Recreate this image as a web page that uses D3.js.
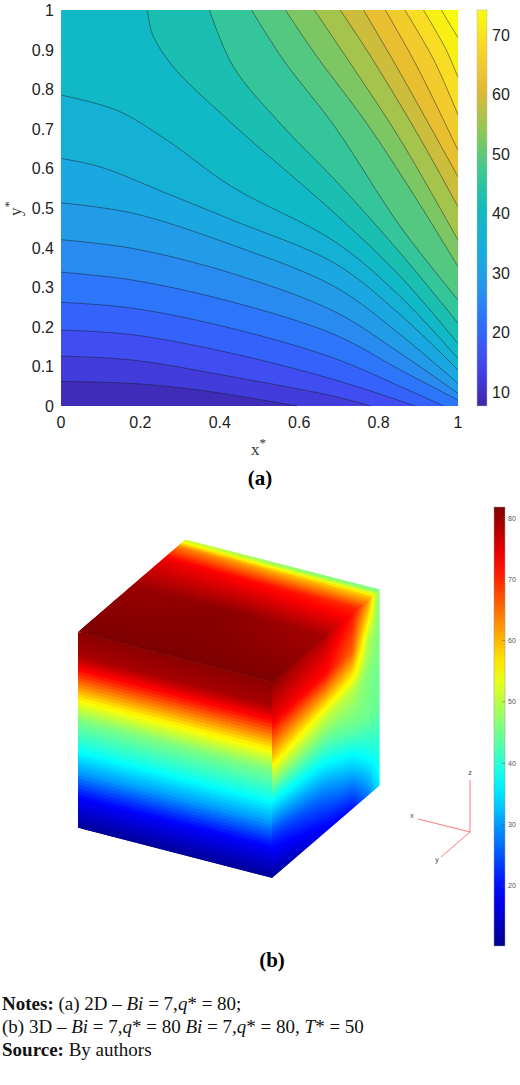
<!DOCTYPE html>
<html><head><meta charset="utf-8">
<script src="https://cdn.jsdelivr.net/npm/d3@7"></script>
<style>body{margin:0;background:#fff}svg{display:block}</style>
</head><body>
<script>
// ---- (a) contour lines, [x*, y*] points, ascending level
var levels = [10.9,14.2,17.6,20.9,24.2,27.5,30.8,34.2,37.5,40.8,44.1,47.4,50.7,54,57.4,60.7,64,67.3,70.6,73.9];
var contourLines = [
 [[0,.062],[.18,.057],[.35,.04],[.594,0]],
 [[0,.126],[.18,.116],[.43,.074],[.69,.024],[.78,0]],
 [[0,.192],[.18,.18],[.43,.133],[.69,.066],[.892,0]],
 [[0,.262],[.18,.247],[.43,.196],[.69,.12],[.855,.049],[.964,0]],
 [[0,.338],[.18,.318],[.43,.263],[.69,.18],[.855,.091],[1,.015]],
 [[0,.42],[.18,.398],[.43,.335],[.69,.238],[.855,.133],[1,.032]],
 [[0,.513],[.18,.487],[.43,.407],[.69,.301],[.855,.18],[1,.057]],
 [[0,.625],[.098,.604],[.266,.537],[.43,.47],[.69,.36],[.855,.23],[1,.091]],
 [[0,.785],[.14,.747],[.266,.672],[.43,.554],[.69,.415],[.855,.276],[1,.12]],
 [[.218,1],[.23,.94],[.28,.86],[.43,.714],[.69,.486],[.855,.327],[1,.158]],
 [[.374,1],[.434,.857],[.56,.705],[.69,.571],[.855,.386],[1,.209]],
 [[.48,1],[.56,.874],[.69,.705],[.855,.453],[1,.268]],
 [[.565,1],[.645,.882],[.77,.714],[.897,.52],[1,.352]],
 [[.638,1],[.729,.865],[.855,.672],[1,.419]],
 [[.703,1],[.77,.899],[.897,.689],[1,.503]],
 [[.762,1],[.855,.84],[1,.579]],
 [[.817,1],[.897,.857],[1,.646]],
 [[.866,1],[.939,.874],[1,.735]],
 [[.913,1],[.97,.9],[1,.83]],
 [[.958,1],[1,.93]]
];
var tMin = 7.6, tMax = 74.2;
var axisTicks = [0,.1,.2,.3,.4,.5,.6,.7,.8,.9,1];
var xTicks = [0,.2,.4,.6,.8,1];
var cbTicksA = [10,20,30,40,50,60,70];

// ---- (b) cube surface temperatures
var frontDepth = [0,.12,.2,.35,.45,.6,.72,.85,1];
var frontTemp  = [81,79,72,55,46,38,30,19,11];
var rightU = [0,.5,.75,.9,1];
var rightV = [0,.2,.4,.6,.8,1];
var rightTemp = [
 [81,78,72,63,46],
 [74,72,66,50,46],
 [58,52,50,46,45],
 [38,40,44,45,44],
 [22,28,33,38,40],
 [11,18,20,28,36]];
var topU = [0,.5,1];
var topW = [0,.5,.8,.93,1];
var topTemp = [
 [82,82,82],
 [80,81,79],
 [74,72,70],
 [64,60,58],
 [50,46,44]];
var jetMin = 10.2, jetMax = 81.8;
var cbTicksB = [20,30,40,50,60,70,80];

var svg = d3.select("body").append("svg").attr("width",520).attr("height",1085);
var defs = svg.append("defs");

var parula = d3.scaleLinear()
  .domain([0,.1,.2,.3,.4,.5,.6,.7,.8,.9,1])
  .range(["#3e26a8","#4443ed","#2f6cfe","#2796eb","#17aedd","#0fbcbc","#42c88e","#93c753","#e2b933","#f9d42a","#f9fb0e"]);
var pc = v => parula((v - tMin)/(tMax - tMin));

var x = d3.scaleLinear([0,1],[61,458]);
var y = d3.scaleLinear([0,1],[406,10]);
var line = d3.line().x(d => x(d[0])).y(d => y(d[1])).curve(d3.curveCatmullRom);

var gA = svg.append("g");
gA.append("rect").attr("x",x(0)).attr("y",y(1)).attr("width",x(1)-x(0)).attr("height",y(0)-y(1))
  .attr("fill", pc((tMin+levels[0])/2));
contourLines.forEach(function(pts, k) {
  var hi = k+1 < levels.length ? levels[k+1] : tMax;
  var d = line(pts);
  var s = pts[0], e = pts[pts.length-1];
  if (e[1] === 0) d += "L" + x(1) + "," + y(0);
  d += "L" + x(1) + "," + y(1);
  if (s[0] === 0) d += "L" + x(0) + "," + y(1);
  d += "Z";
  gA.append("path").attr("d", d).attr("fill", pc((levels[k]+hi)/2));
});
gA.selectAll(".cl").data(contourLines).enter().append("path")
  .attr("d", line).attr("fill","none").attr("stroke","#1a1a2a").attr("stroke-width",0.6).attr("stroke-opacity",0.8);

var fA = "'Liberation Sans', Arial, sans-serif";
svg.selectAll(".xt").data(xTicks).enter().append("text")
  .attr("x", d => x(d)).attr("y", 428).attr("text-anchor","middle")
  .attr("font-family",fA).attr("font-size",16).attr("fill","#222").text(d => d);
svg.selectAll(".yt").data(axisTicks).enter().append("text")
  .attr("x", 54).attr("y", d => y(d)+6).attr("text-anchor","end")
  .attr("font-family",fA).attr("font-size",16).attr("fill","#222").text(d => d);
svg.append("text").attr("x",251).attr("y",455).attr("font-family","'Liberation Serif',serif").attr("font-size",17).attr("fill","#333")
  .html("x<tspan dy='-8' font-size='13'>*</tspan>");
svg.append("text").attr("transform","translate(21,216) rotate(-90)").attr("font-family","'Liberation Serif',serif").attr("font-size",17).attr("fill","#333")
  .html("y<tspan dy='-8' font-size='13'>*</tspan>");

// colorbar (a)
var cbY = d3.scaleLinear([tMin,tMax],[406,10]);
var gradA = defs.append("linearGradient").attr("id","cbA").attr("x1",0).attr("y1",1).attr("x2",0).attr("y2",0);
d3.range(0,1.001,0.05).forEach(t => gradA.append("stop").attr("offset",t).attr("stop-color",parula(t)));
svg.append("rect").attr("x",477).attr("y",10).attr("width",10).attr("height",396).attr("fill","url(#cbA)").attr("stroke","#bbb").attr("stroke-width",0.5);
svg.selectAll(".cba").data(cbTicksA).enter().append("text")
  .attr("x",492).attr("y",d => cbY(d)+6).attr("font-family",fA).attr("font-size",16).attr("fill","#222").text(d => d);
svg.append("text").attr("x",260).attr("y",485).attr("text-anchor","middle").attr("font-family","'Liberation Serif',serif")
  .attr("font-weight","bold").attr("font-size",21).text("(a)");

// ---- (b) cube
var jet = d3.scaleLinear()
  .domain([0,.125,.375,.625,.875,1].map(t => jetMin + t*(jetMax-jetMin)))
  .range(["#00008f","#0000ff","#00ffff","#ffff00","#ff0000","#800000"]);

defs.append("clipPath").attr("id","faceClip").attr("clipPathUnits","userSpaceOnUse")
  .append("rect").attr("x",-0.004).attr("y",-0.004).attr("width",1.008).attr("height",1.008);

function sampler(us, vs, table) {
  var rows = table.map(r => d3.scaleLinear(us, r).clamp(true));
  return (u, v) => d3.scaleLinear(vs, rows.map(f => f(u))).clamp(true)(v);
}
function drawFace(mat, f) {
  var N = 60;
  var g = svg.append("g").attr("transform","matrix(" + mat.join(",") + ")")
    .append("g").attr("clip-path","url(#faceClip)");
  var cells = [];
  for (var i = 0; i < N; i++) for (var j = 0; j < N; j++) cells.push([i, j]);
  g.selectAll("rect").data(cells).enter().append("rect")
    .attr("x", d => d[0]/N).attr("y", d => d[1]/N).attr("width", 2/N).attr("height", 2/N)
    .attr("fill", d => jet(f((d[0]+.5)/N, (d[1]+.5)/N)));
}
drawFace([194,50,0,195,78,632], sampler([0,1], frontDepth, frontTemp.map(t => [t,t])));
drawFace([107,-92,0,195,272,682], sampler(rightU, rightV, rightTemp));
drawFace([194,50,107,-92,78,632], sampler(topU, topW, topTemp));

// orientation triad
var tri = svg.append("g").attr("stroke","#f55").attr("stroke-width",0.8);
tri.append("line").attr("x1",470).attr("y1",832).attr("x2",470).attr("y2",780);
tri.append("line").attr("x1",470).attr("y1",832).attr("x2",418).attr("y2",819);
tri.append("line").attr("x1",470).attr("y1",832).attr("x2",441).attr("y2",857);
[["z",470,775],["x",412,818],["y",437,862]].forEach(a => svg.append("text").attr("x",a[1]).attr("y",a[2])
  .attr("text-anchor","middle").attr("font-family",fA).attr("font-size",7).attr("fill","#444").text(a[0]));

// colorbar (b)
var cbYb = d3.scaleLinear([jetMin,jetMax],[946,507]);
var gradB = defs.append("linearGradient").attr("id","cbB").attr("x1",0).attr("y1",1).attr("x2",0).attr("y2",0);
d3.range(0,1.001,0.05).forEach(t => gradB.append("stop").attr("offset",t).attr("stop-color",jet(jetMin+t*(jetMax-jetMin))));
svg.append("rect").attr("x",494).attr("y",507).attr("width",11).attr("height",439).attr("fill","url(#cbB)").attr("stroke","#999").attr("stroke-width",0.5);
svg.selectAll(".tkb").data(cbTicksB).enter().append("line")
  .attr("x1",502).attr("x2",505).attr("y1",d => cbYb(d)).attr("y2",d => cbYb(d)).attr("stroke","#555").attr("stroke-width",0.5);
svg.selectAll(".cbb").data(cbTicksB).enter().append("text")
  .attr("x",508).attr("y",d => cbYb(d)+2.5).attr("font-family",fA).attr("font-size",7).attr("fill","#555").text(d => d);
svg.append("text").attr("x",272).attr("y",967).attr("text-anchor","middle").attr("font-family","'Liberation Serif',serif")
  .attr("font-weight","bold").attr("font-size",21).text("(b)");

// notes
var notes = [
 "<tspan font-weight='bold'>Notes:</tspan> (a) 2D – <tspan font-style='italic'>Bi</tspan> = 7,<tspan font-style='italic'>q</tspan>* = 80;",
 "(b) 3D – <tspan font-style='italic'>Bi</tspan> = 7,<tspan font-style='italic'>q</tspan>* = 80 <tspan font-style='italic'>Bi</tspan> = 7,<tspan font-style='italic'>q</tspan>* = 80, <tspan font-style='italic'>T</tspan>* = 50",
 "<tspan font-weight='bold'>Source:</tspan> By authors"];
notes.forEach((n, i) => svg.append("text").attr("x",2).attr("y",1010 + i*23).attr("font-family","'Liberation Serif',serif")
  .attr("font-size",19).attr("fill","#111").html(n));
</script>
</body></html>
